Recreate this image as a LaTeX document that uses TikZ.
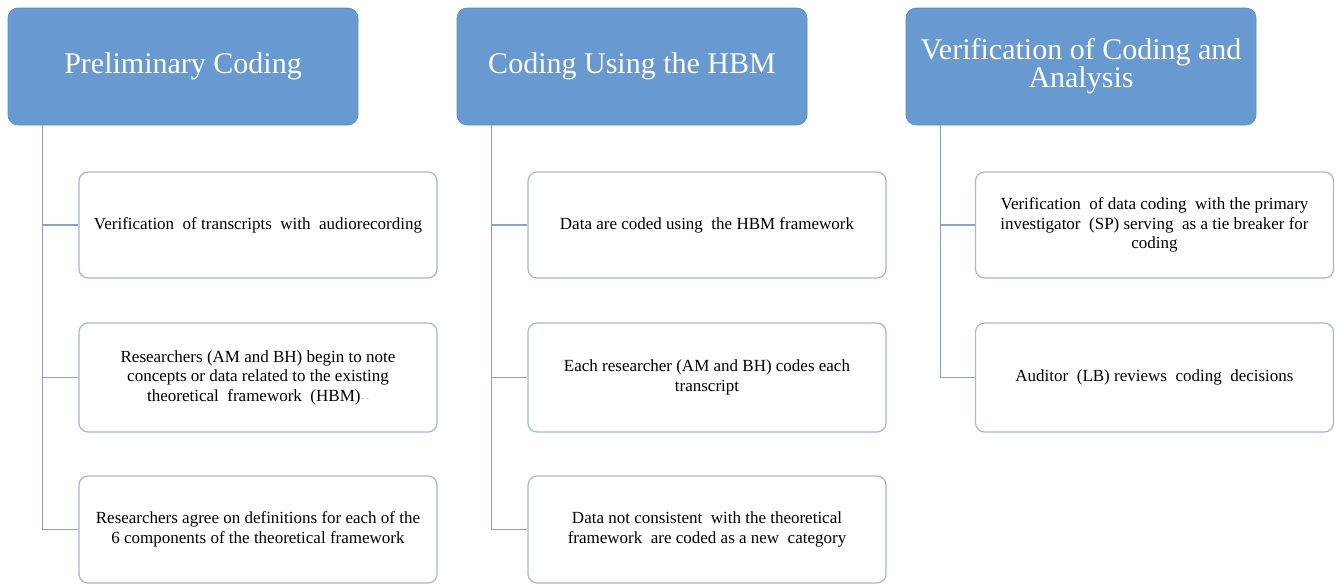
\documentclass[tikz,border=0pt]{standalone}
\usepackage{fontspec}
\setmainfont{Liberation Serif}
\definecolor{hdrblue}{RGB}{104,153,208}
\definecolor{boxline}{RGB}{160,185,212}
\definecolor{conline}{RGB}{140,163,190}
\begin{document}
\begin{tikzpicture}[x=1pt,y=-1pt,
  header/.style={draw=hdrblue!90!black, line width=0.6pt, fill=hdrblue, rounded corners=10pt,
    minimum width=350pt, minimum height=117pt, inner sep=0pt, align=center,
    text=white, font=\fontsize{30}{26}\selectfont},
  child/.style={draw=boxline, line width=1.2pt, fill=white, rounded corners=9pt,
    minimum width=358pt, inner sep=0pt, align=center, text=black,
    font=\fontsize{17}{19.5}\selectfont},
  con/.style={draw=conline, line width=1.3pt}]
\useasboundingbox (0,0) rectangle (1335,584);
% headers
\node[header] (h1) at (183,66.5) {Preliminary Coding};
\node[header] (h2) at (632,66.5) {Coding Using the HBM};
\node[header] (h3) at (1081,66.5) {Verification of Coding and\\Analysis};
% column 1
\node[child, minimum height=106pt] (c11) at (258,225) {Verification\ \ of transcripts\ \ with\ \ audiorecording};
\node[child, minimum height=109pt] (c12) at (258,377.5) {Researchers\ (AM and BH) begin\ to note\\concepts\ or data related to the existing\\theoretical\ \ framework\ \ (HBM)\textcolor{gray!60}{\fontsize{10}{10}\selectfont-\,-}};
\node[child, minimum height=107pt] (c13) at (258,529.5) {Researchers\ agree on definitions\ for each of the\\6 components\ of the theoretical\ framework};
% column 2
\node[child, minimum height=106pt] (c21) at (707,225) {Data are coded using\ \ the HBM framework};
\node[child, minimum height=109pt] (c22) at (707,377.5) {Each researcher (AM and BH) codes each\\transcript};
\node[child, minimum height=107pt] (c23) at (707,529.5) {Data not consistent\ \ with the theoretical\\framework\ \ are coded as a new\ \ category};
% column 3
\node[child, minimum height=106pt] (c31) at (1154.5,225) {Verification\ \ of data coding\ \ with the primary\\investigator\ \ (SP) serving\ \ as a tie breaker for\\coding};
\node[child, minimum height=109pt] (c32) at (1154.5,377.5) {Auditor\ \ (LB) reviews\ \ coding\ \ decisions};
% connectors
\coordinate (s1) at ([xshift=35pt]h1.south west);
\coordinate (s2) at ([xshift=35pt]h2.south west);
\coordinate (s3) at ([xshift=35pt]h3.south west);
\draw[con] (s1) |- (c11.west);
\draw[con] (s1) |- (c12.west);
\draw[con] (s1) |- (c13.west);
\draw[con] (s2) |- (c21.west);
\draw[con] (s2) |- (c22.west);
\draw[con] (s2) |- (c23.west);
\draw[con] (s3) |- (c31.west);
\draw[con] (s3) |- (c32.west);
\end{tikzpicture}
\end{document}
